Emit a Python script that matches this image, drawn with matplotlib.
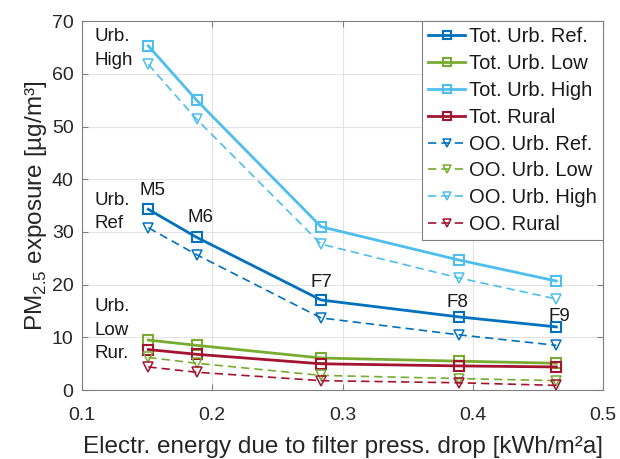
import matplotlib
matplotlib.use("Agg")
import matplotlib.pyplot as plt

plt.rcParams['font.family'] = ['Liberation Sans', 'DejaVu Sans']
plt.rcParams['mathtext.fontset'] = 'custom'
plt.rcParams['mathtext.rm'] = 'Liberation Sans'

# x: electrical energy due to filter pressure drop [kWh/m²a]
x = [0.151, 0.188, 0.2835, 0.389, 0.464]
point_labels = ["M5", "M6", "F7", "F8", "F9"]

tot_urb_ref = [34.3, 29.0, 17.1, 13.9, 12.0]
tot_urb_low = [9.5, 8.5, 6.1, 5.5, 5.1]
tot_urb_high = [65.3, 55.0, 31.0, 24.7, 20.7]
tot_rural = [7.7, 6.8, 5.0, 4.6, 4.4]

oo_urb_ref = [30.8, 25.7, 13.7, 10.5, 8.5]
oo_urb_low = [6.2, 5.1, 2.8, 2.2, 1.8]
oo_urb_high = [61.8, 51.4, 27.7, 21.3, 17.3]
oo_rural = [4.4, 3.4, 1.8, 1.4, 0.9]

c_ref = '#0072BD'
c_low = '#77AC30'
c_high = '#4DBEEE'
c_rur = '#A2142F'

fig = plt.figure(figsize=(6.2, 4.59), dpi=100)
ax = fig.add_axes([0.132, 0.150, 0.841, 0.804])

solid = dict(lw=2.0, marker='s', ms=6.5, mfc='none', mew=1.5)
dash = dict(lw=1.2, ls=(0, (5, 3)), marker='v', ms=7.5, mfc='none', mew=1.1)

ax.plot(x, tot_urb_ref, color=c_ref, label='Tot. Urb. Ref.', **solid)
ax.plot(x, tot_urb_low, color=c_low, label='Tot. Urb. Low', **solid)
ax.plot(x, tot_urb_high, color=c_high, label='Tot. Urb. High', **solid)
ax.plot(x, tot_rural, color=c_rur, label='Tot. Rural', **solid)
ax.plot(x, oo_urb_ref, color=c_ref, label='OO. Urb. Ref.', **dash)
ax.plot(x, oo_urb_low, color=c_low, label='OO. Urb. Low', **dash)
ax.plot(x, oo_urb_high, color=c_high, label='OO. Urb. High', **dash)
ax.plot(x, oo_rural, color=c_rur, label='OO. Rural', **dash)

ax.set_xlim(0.1, 0.5)
ax.set_ylim(0, 70)
ax.set_xticks([0.1, 0.2, 0.3, 0.4, 0.5])
ax.set_yticks(range(0, 71, 10))
ax.grid(True, color='#e3e3e3', lw=0.8)
ax.set_axisbelow(True)
for s in ax.spines.values():
    s.set_color('#808080')
    s.set_linewidth(0.8)
ax.tick_params(direction='in', length=4, width=0.8, color='#808080',
               top=True, right=True, labelsize=14, labelcolor='#262626', pad=6)
ax.tick_params(axis='x', pad=12)

ax.set_xlabel('Electr. energy due to filter press. drop [kWh/m²a]', fontsize=17.5,
              color='#262626', labelpad=9)
ax.set_ylabel('PM$_\\mathregular{2.5}$ exposure [µg/m³]', fontsize=17.5,
              color='#262626', labelpad=2)

# point labels
lab_pos = [(0.154, 37.8), (0.191, 32.8), (0.284, 20.4), (0.388, 16.6), (0.466, 14.0)]
for t, (px, py) in zip(point_labels, lab_pos):
    ax.text(px, py, t, fontsize=13.5, ha='center', va='center', color='#1a1a1a')

# group labels
ax.text(0.110, 64.8, 'Urb.\nHigh', fontsize=13.5, ha='left', va='center',
        linespacing=1.5, color='#1a1a1a')
ax.text(0.110, 33.8, 'Urb.\nRef', fontsize=13.5, ha='left', va='center',
        linespacing=1.5, color='#1a1a1a')
ax.text(0.110, 11.4, 'Urb.\nLow\nRur.', fontsize=13.5, ha='left', va='center',
        linespacing=1.5, color='#1a1a1a')

leg = ax.legend(loc='upper right', bbox_to_anchor=(1.0, 1.0), borderaxespad=0.0,
                fontsize=14.5, frameon=True, fancybox=False, edgecolor='#808080',
                framealpha=1.0, handlelength=1.85, handletextpad=0.2,
                labelspacing=0.39, borderpad=0.3, markerscale=0.8)
leg.get_frame().set_linewidth(0.8)
for t in leg.get_texts():
    t.set_color('#1a1a1a')

fig.savefig('out.png', dpi=100)
